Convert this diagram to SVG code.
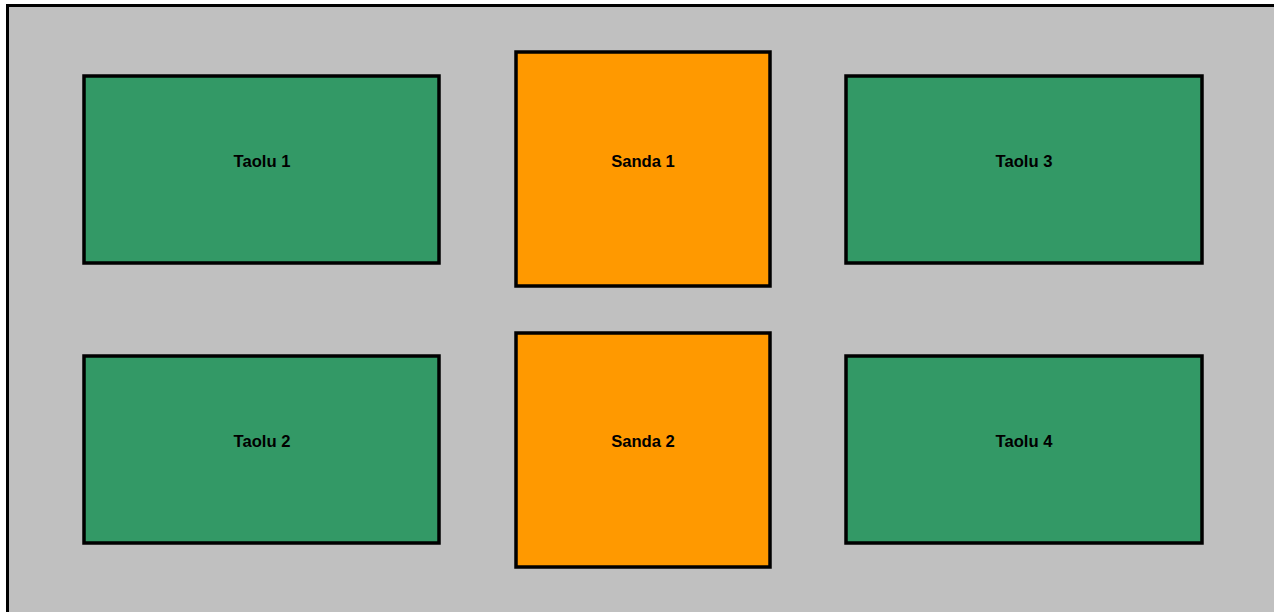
<svg xmlns="http://www.w3.org/2000/svg" width="1274" height="612" viewBox="0 0 1274 612">
<style>
.bg{fill:#c0c0c0;stroke:#000;stroke-width:3}
.taolu{fill:#339966;stroke:#000;stroke-width:3.5}
.sanda{fill:#ff9900;stroke:#000;stroke-width:3.5}
.lbl{font-family:"Liberation Sans",Arial,sans-serif;font-weight:bold;font-size:16.6px;fill:#000;text-anchor:middle;dominant-baseline:central}
</style>
<rect class="bg" x="7.5" y="5.5" width="1280" height="620"/>
<g id="taolu1"><rect class="taolu" x="84" y="76" width="355" height="187"/><text class="lbl" x="262" y="161">Taolu 1</text></g>
<g id="sanda1"><rect class="sanda" x="516" y="52" width="254" height="234"/><text class="lbl" x="643" y="161">Sanda 1</text></g>
<g id="taolu3"><rect class="taolu" x="846" y="76" width="356" height="187"/><text class="lbl" x="1024" y="161">Taolu 3</text></g>
<g id="taolu2"><rect class="taolu" x="84" y="356" width="355" height="187"/><text class="lbl" x="262" y="441">Taolu 2</text></g>
<g id="sanda2"><rect class="sanda" x="516" y="333" width="254" height="234"/><text class="lbl" x="643" y="441">Sanda 2</text></g>
<g id="taolu4"><rect class="taolu" x="846" y="356" width="356" height="187"/><text class="lbl" x="1024" y="441">Taolu 4</text></g>
<g id="connectors"></g>
</svg>
